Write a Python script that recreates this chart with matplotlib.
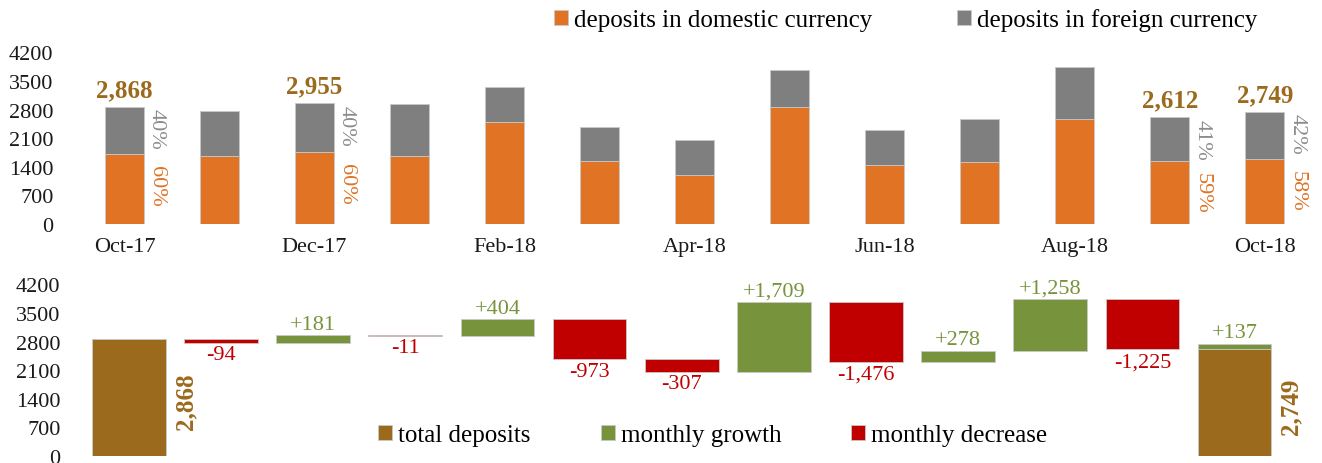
import numpy as np
import matplotlib.pyplot as plt

plt.rcParams['font.family'] = ['Liberation Serif', 'DejaVu Serif']

# top panel: deposits by currency
months = ['Oct-17', 'Nov-17', 'Dec-17', 'Jan-18', 'Feb-18', 'Mar-18', 'Apr-18',
          'May-18', 'Jun-18', 'Jul-18', 'Aug-18', 'Sep-18', 'Oct-18']
total = [2868, 2774, 2955, 2944, 3348, 2375, 2068, 3777, 2301, 2579, 3837, 2612, 2749]
domestic = [1721, 1656, 1773, 1671, 2487, 1549, 1199, 2854, 1443, 1509, 2568, 1541, 1594]
foreign = [t - d for t, d in zip(total, domestic)]
labelled = [0, 2, 11, 12]
dom_pct = ['60%', '60%', '59%', '58%']
for_pct = ['40%', '40%', '41%', '42%']

# bottom panel: waterfall
start_total = 2868
changes = [-94, 181, -11, 404, -973, -307, 1709, -1476, 278, 1258, -1225, 137]
end_total = 2749

c_dom = '#E07324'
c_for = '#7F7F7F'
c_tot = '#9C6A1C'
c_up = '#77933C'
c_dn = '#C00000'
c_edge = '#C8C8C8'

fig = plt.figure(figsize=(13.22, 4.64), dpi=100)

# ---------------- top ----------------
ax = fig.add_axes([0.051, 0.515, 0.949, 0.37])
x = np.arange(len(months))
w = 0.41
b1 = ax.bar(x, domestic, w, color=c_dom, edgecolor=c_edge, linewidth=0.6,
            label='deposits in domestic currency')
b2 = ax.bar(x, foreign, w, bottom=domestic, color=c_for, edgecolor=c_edge, linewidth=0.6,
            label='deposits in foreign currency')
ax.set_xlim(-0.6, 12.6)
ax.set_ylim(0, 4200)
ax.set_yticks(np.arange(0, 4201, 700))
ax.set_xticks(x[::2])
ax.set_xticklabels(months[::2])
ax.tick_params(length=0, labelsize=16, colors='#1a1a1a')
ax.tick_params(axis='y', pad=10)
ax.tick_params(axis='x', pad=9)
for s in ax.spines.values():
    s.set_visible(False)

for k, i in enumerate(labelled):
    ax.annotate(f'{total[i]:,}', (x[i], total[i]), xytext=(0, 4), textcoords='offset points',
                ha='center', va='bottom', fontsize=18, fontweight='bold', color=c_tot,
                annotation_clip=False)
    ax.annotate(for_pct[k], (x[i] + w / 2, total[i]), xytext=(2, -1), textcoords='offset points',
                ha='left', va='top', rotation=-90, fontsize=16, color='#8C8C8C')
    ax.annotate(dom_pct[k], (x[i] + w / 2, domestic[i]), xytext=(2, -8), textcoords='offset points',
                ha='left', va='top', rotation=-90, fontsize=16, color=c_dom)

fig.legend(handles=[b1, b2], loc='center', bbox_to_anchor=(906 / 1322, 1 - 21 / 464), ncol=2,
           frameon=False, fontsize=18, handlelength=0.55, handleheight=0.55,
           handletextpad=0.25, columnspacing=3.4)

# ---------------- bottom ----------------
ax2 = fig.add_axes([0.051, 0.015, 0.949, 0.37])
wb = 0.8
level = start_total
hs = [ax2.bar(0, start_total, wb, color=c_tot, edgecolor=c_edge, linewidth=0.6,
              label='total deposits')]
ax2.annotate(f'{start_total:,}', (0 + wb / 2, start_total / 2), xytext=(6, -2),
             textcoords='offset points', ha='left', va='center', rotation=90,
             fontsize=18, fontweight='bold', color=c_tot)
up_h = dn_h = None
for j, ch in enumerate(changes):
    pos = j + 1
    if pos == len(changes):
        # last: previous level as total plus final growth
        ax2.bar(pos, level, wb, color=c_tot, edgecolor=c_edge, linewidth=0.6)
    bottom = min(level, level + ch)
    col = c_up if ch > 0 else c_dn
    bb = ax2.bar(pos, abs(ch), wb, bottom=bottom, color=col, edgecolor=c_edge, linewidth=0.6)
    if ch > 0:
        up_h = bb
        ax2.annotate(f'+{ch:,}', (pos, level + ch), xytext=(0, 1), textcoords='offset points',
                     ha='center', va='bottom', fontsize=16, color=c_up)
    else:
        dn_h = bb
        ax2.annotate(f'-{abs(ch):,}', (pos, level + ch), xytext=(0, -2), textcoords='offset points',
                     ha='center', va='top', fontsize=16, color=c_dn)
    level += ch
last = len(changes)
ax2.annotate(f'{end_total:,}', (last + wb / 2, end_total / 2), xytext=(6, -4),
             textcoords='offset points', ha='left', va='center', rotation=90,
             fontsize=18, fontweight='bold', color=c_tot)
up_h.set_label('monthly growth')
dn_h.set_label('monthly decrease')

ax2.set_xlim(-0.668, 12.95)
ax2.set_ylim(0, 4200)
ax2.set_yticks(np.arange(0, 4201, 700))
ax2.set_xticks([])
ax2.tick_params(length=0, labelsize=16, colors='#1a1a1a', pad=5)
for s in ax2.spines.values():
    s.set_visible(False)

fig.legend(handles=[hs[0], up_h, dn_h], loc='center', bbox_to_anchor=(713 / 1322, 1 - 436 / 464),
           ncol=3, frameon=False, fontsize=18, handlelength=0.55, handleheight=0.55,
           handletextpad=0.25, columnspacing=2.8)

fig.savefig('out.png', dpi=100)
